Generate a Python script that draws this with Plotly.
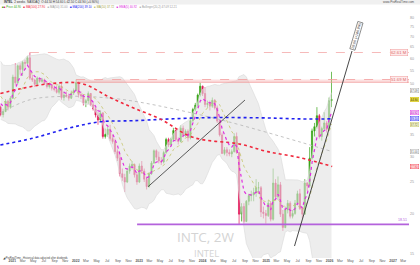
import numpy as np
import pandas as pd
import plotly.graph_objects as go

# ---------------- data ----------------
bar_start = "2020-10-26"          # first 2-week bar
n_bars = 137

opens = [42.5,40.3,41.2,44.3,42.5,45.3,52.6,50.5,57.0,55.5,
         58.4,58.0,60.3,52.2,51.5,50.0,52.2,51.0,51.6,50.3,
         49.2,49.8,48.6,48.2,47.2,49.3,45.5,46.3,46.0,45.3,
         47.0,47.8,50.6,46.5,46.0,43.8,44.5,46.8,43.2,42.0,
         40.2,38.8,40.8,34.5,35.0,36.3,34.0,33.3,31.0,29.6,
         26.5,25.8,25.0,27.0,28.0,28.3,26.3,25.0,28.0,27.0,
         25.5,24.2,26.5,28.6,31.2,29.8,29.0,28.8,30.8,33.8,
         32.5,33.8,36.0,33.8,33.3,36.6,34.8,35.8,34.2,38.6,
         41.8,43.1,46.3,49.3,46.8,43.3,43.6,42.8,44.6,42.3,
         38.5,34.9,30.6,31.4,30.8,30.5,31.0,34.5,30.8,19.9,
         21.0,18.9,21.8,22.7,22.8,23.2,24.0,24.0,20.2,20.0,
         19.7,21.5,19.2,24.8,22.5,24.5,19.9,18.1,20.5,21.5,
         19.6,20.0,21.5,23.0,20.7,19.9,24.8,24.3,29.6,35.9,
         37.0,40.0,34.5,36.5,38.0,36.3,44.5]
highs = [43.0,42.0,45.0,44.8,46.0,53.5,58.0,57.5,58.0,59.0,
         59.5,61.0,62.61,53.5,52.0,52.8,52.5,52.3,52.0,51.0,
         50.5,50.2,49.5,49.5,50.0,50.2,47.5,47.5,46.8,47.8,
         48.5,51.69,51.0,47.5,46.5,45.0,47.5,47.0,44.0,42.5,
         41.0,41.5,41.0,36.5,37.0,37.5,35.0,34.0,31.5,30.5,
         27.5,26.5,27.5,28.5,29.0,28.5,26.8,28.5,29.0,27.5,
         26.0,26.8,29.0,31.5,31.5,31.0,29.8,31.2,34.2,34.2,
         34.2,36.7,36.3,34.3,37.3,37.3,36.3,36.3,39.3,42.3,
         43.8,46.8,50.5,49.5,49.0,44.5,44.5,45.5,45.0,43.0,
         38.8,35.5,32.0,32.0,31.5,31.5,35.3,35.5,31.0,21.5,
         21.5,22.0,23.0,23.5,24.0,25.5,25.0,24.3,21.0,20.5,
         22.0,21.8,27.5,25.5,26.0,25.0,20.5,21.0,22.0,21.8,
         20.5,22.0,23.5,23.8,21.0,25.5,25.0,32.0,36.5,38.0,
         42.5,40.5,37.0,41.0,38.5,45.5,54.6]
lows = [39.8,39.5,41.0,41.5,42.0,45.0,49.5,50.0,53.5,53.0,
        55.5,57.5,51.5,50.8,49.0,49.8,50.5,50.5,49.8,48.5,
        48.5,47.8,47.5,46.8,46.5,44.8,44.5,45.5,44.5,45.0,
        46.3,47.5,45.5,45.0,43.0,42.5,43.5,42.8,41.5,39.5,
        37.5,38.5,34.0,34.0,34.5,33.5,32.8,30.5,29.0,26.0,
        25.2,23.3,24.8,26.5,27.3,25.8,24.5,24.8,26.5,25.0,
        23.7,24.0,26.3,28.4,29.2,28.5,28.2,28.5,30.5,32.0,
        32.2,33.3,33.3,32.6,33.1,34.3,34.3,33.3,33.8,38.3,
        41.3,42.3,45.8,46.0,42.5,42.3,41.5,42.3,41.8,38.0,
        34.5,30.5,30.2,30.0,30.0,29.8,30.8,30.5,18.51,18.9,
        18.6,18.8,21.2,21.8,21.8,22.5,23.0,19.5,19.3,18.6,
        19.5,18.9,19.0,22.0,22.0,19.5,17.67,18.0,20.0,19.3,
        19.3,19.8,21.2,20.5,19.3,19.8,23.5,24.0,29.3,34.5,
        36.5,34.0,33.5,36.0,35.5,36.0,42.5]
closes = [40.3,41.2,44.3,42.5,45.3,52.6,50.5,57.0,55.5,58.4,
          58.0,60.3,52.2,51.5,50.0,52.2,51.0,51.6,50.3,49.2,
          49.8,48.6,48.2,47.2,49.3,45.5,46.3,46.0,45.3,47.0,
          47.8,50.6,46.5,46.0,43.8,44.5,46.8,43.2,42.0,40.2,
          38.8,40.8,34.5,35.0,36.3,34.0,33.3,31.0,29.6,26.5,
          25.8,25.0,27.0,28.0,28.3,26.3,25.0,28.0,27.0,25.5,
          24.2,26.5,28.6,31.2,29.8,29.0,28.8,30.8,33.8,32.5,
          33.8,36.0,33.8,33.3,36.6,34.8,35.8,34.2,38.6,41.8,
          43.1,46.3,49.3,46.8,43.3,43.6,42.8,44.6,42.3,38.5,
          34.9,30.6,31.4,30.8,30.5,31.0,34.5,30.8,19.9,21.0,
          18.9,21.8,22.7,22.8,23.2,24.0,24.0,20.2,20.0,19.7,
          21.5,19.2,24.8,22.5,24.5,19.9,18.1,20.5,21.5,19.6,
          20.0,21.5,23.0,20.7,19.9,24.8,24.3,29.6,35.9,37.0,
          40.0,34.5,36.5,38.0,36.3,44.5,44.9]
# closes of the 19 bars before the first visible bar (indicator warm-up only)
pre_close = [59.2,49.4,47.2,46.3,49.8,51.6,53.4,53.4,56.0,52.5,
             53.0,53.4,42.5,43.6,45.4,45.0,45.4,48.1,42.3]

# long moving averages
blue_dates = ["2020-10-24","2021-04-30","2021-11-12","2022-05-21","2022-11-27",
              "2023-12-17","2024-11-27","2025-07-14","2026-01-16"]
blue_vals = [32.5,34.1,36.5,38.3,38.6,39.4,39.4,39.1,39.1]
red_dates = ["2020-10-24","2021-02-16","2021-08-07","2022-02-07","2022-07-17",
             "2022-11-27","2023-05-01","2023-11-07","2024-08-03","2025-01-10",
             "2025-07-14","2026-01-16"]
red_vals = [46.8,48.4,50.2,50.2,45.5,42.3,39.1,34.3,32.7,31.0,29.7,27.9]
grey_dates = ["2020-10-24","2021-04-14","2021-11-29","2022-07-17","2023-01-06",
              "2024-03-24","2025-07-14","2026-01-16"]
grey_vals = [40.8,44.8,45.9,45.3,44.0,39.1,33.2,31.0]

# horizontal levels and trend lines
level_hi, level_hi_start = 62.61, "2021-04-12"
level_mid, level_mid_low, level_mid_start = 51.69, 50.7, "2022-01-03"
level_low, level_low_start = 18.51, "2022-12-20"
trend1_dates, trend1_vals = ["2023-02-21","2024-09-01"], [24.17, 44.7]
trend2_dates, trend2_vals = ["2025-06-13","2026-05-10"], [15.87, 63.28]
trend2_label = "29.66 (+186.9%)"

x_tick_dates = ["2021-01-01","2021-03-01","2021-05-01","2021-07-01","2021-09-01","2021-11-01",
                "2022-01-01","2022-03-01","2022-05-01","2022-07-01","2022-09-01","2022-11-01",
                "2023-01-01","2023-03-01","2023-05-01","2023-07-01","2023-09-01","2023-11-01",
                "2024-01-01","2024-03-01","2024-05-01","2024-07-01","2024-09-01","2024-11-01",
                "2025-01-01","2025-03-01","2025-05-01","2025-07-01","2025-09-01","2025-11-01",
                "2026-01-01","2026-03-01","2026-05-01","2026-07-01","2026-09-01","2026-11-01",
                "2027-01-01","2027-03-01"]
x_tick_text = ["<b>2021</b>","Mar","May","Jul","Sep","Nov",
               "<b>2022</b>","Mar","May","Jul","Sep","Nov",
               "<b>2023</b>","Mar","May","Jul","Sep","Nov",
               "<b>2024</b>","Mar","May","Jul","Sep","Nov",
               "<b>2025</b>","Mar","May","Jul","Sep","Nov",
               "<b>2026</b>","Mar","May","Jul","Sep","Nov",
               "<b>2027</b>","Mar"]
# right-axis ticks; 40 and 45 sit under the value boxes, as in the reference
y_tick_vals = [15,20,25,30,35,40,45,50,55,60,65,70,75,80,85]
y_tick_text = ["15","20","25","30","35","","","50","55","60","65","70","75","80","85"]

x_range = ["2020-10-22", "2027-04-03"]
y_range = [14.58, 83.44]

# ---------------- indicators ----------------
dates = pd.date_range(bar_start, periods=n_bars, freq="14D")
allc = pd.Series(pre_close + closes, dtype=float)
k = len(pre_close)
mid = allc.rolling(20).mean()
sd = allc.rolling(20).std(ddof=0)
bb_up = (mid + 2 * sd).iloc[k:].to_numpy()
bb_lo = np.maximum((mid - 2 * sd).iloc[k:].to_numpy(), 1.0)
ema5 = allc.ewm(span=5, adjust=False).mean().iloc[k:].to_numpy()
sma10 = allc.rolling(10).mean().iloc[k:].to_numpy()

GREEN, RED = "#36a415", "#e3185a"
BLUE, MAROON, MAG, OLIVE, GREY = "#2020f0", "#f0283c", "#e02ee0", "#c4c46a", "#b4b4b4"
FONT = "Liberation Sans"

fig = go.Figure()
# Bollinger band
fig.add_trace(go.Scatter(x=dates, y=bb_up, mode="lines",
                         line=dict(color="#d9d9d9", width=0.6), hoverinfo="skip"))
fig.add_trace(go.Scatter(x=dates, y=bb_lo, mode="lines", fill="tonexty",
                         fillcolor="rgba(225,225,225,0.6)",
                         line=dict(color="#d9d9d9", width=0.6), hoverinfo="skip"))
# levels
x_end = x_range[1]
fig.add_trace(go.Scatter(x=[level_mid_start, x_end], y=[level_mid, level_mid], mode="lines",
                         line=dict(color="#f19a9a", width=0.8, dash="dash")))
fig.add_trace(go.Scatter(x=[level_mid_start, x_end], y=[level_mid_low, level_mid_low], mode="lines",
                         fill="tonexty", fillcolor="rgba(245,170,170,0.35)",
                         line=dict(color="#f19a9a", width=0.8)))
fig.add_trace(go.Scatter(x=[level_hi_start, x_end], y=[level_hi, level_hi], mode="lines",
                         line=dict(color="#f4a8a8", width=0.8, dash="dash")))
fig.add_trace(go.Scatter(x=[level_low_start, x_end], y=[level_low, level_low], mode="lines",
                         line=dict(color="#b462dc", width=1.6)))
# candles
fig.add_trace(go.Candlestick(
    x=dates, open=opens, high=highs, low=lows, close=closes,
    increasing=dict(line=dict(color=GREEN, width=0.7), fillcolor=GREEN),
    decreasing=dict(line=dict(color=RED, width=0.7), fillcolor=RED),
    whiskerwidth=0))
# moving averages
fig.add_trace(go.Scatter(x=grey_dates, y=grey_vals, mode="lines", line_shape="spline",
                         line=dict(color=GREY, width=0.8, dash="dot")))
fig.add_trace(go.Scatter(x=dates, y=sma10, mode="lines",
                         line=dict(color=OLIVE, width=0.8, dash="dot")))
fig.add_trace(go.Scatter(x=blue_dates, y=blue_vals, mode="lines", line_shape="spline",
                         line=dict(color=BLUE, width=1.6, dash="dot")))
fig.add_trace(go.Scatter(x=red_dates, y=red_vals, mode="lines", line_shape="spline",
                         line=dict(color=MAROON, width=1.6, dash="dot")))
fig.add_trace(go.Scatter(x=dates, y=ema5, mode="lines",
                         line=dict(color=MAG, width=1.2, dash="dot")))
# trend lines
fig.add_trace(go.Scatter(x=trend1_dates, y=trend1_vals, mode="lines",
                         line=dict(color="#333333", width=0.8)))
fig.add_trace(go.Scatter(x=trend2_dates, y=trend2_vals, mode="lines",
                         line=dict(color="#333333", width=0.9)))

ann = []
def lg(v):
    return float(np.log10(v))

# trend label rotated along the steep line
ann.append(dict(x="2026-06-04", y=lg(70.4), xref="x", yref="y", text=trend2_label,
                showarrow=False, textangle=-73.6, font=dict(size=3.6, color="#333", family=FONT),
                bgcolor="white", bordercolor="#555", borderwidth=0.6, borderpad=0.6))
# level labels
for val, txt in [(level_hi, f"{level_hi:.2f} M"), (level_mid, f"{level_mid:.2f} M")]:
    ann.append(dict(x=0.997, y=lg(val), xref="paper", yref="y", text=txt, showarrow=False,
                    xanchor="right", yanchor="middle",
                    font=dict(size=4.2, color="#e06a6a", family=FONT),
                    bgcolor="#fdeaea", bordercolor="#f19a9a", borderwidth=0.5, borderpad=0.5))
ann.append(dict(x=1.0, y=lg(level_low), xref="paper", yref="y", text=f"{level_low:.2f}",
                showarrow=False, xanchor="right", yanchor="bottom",
                font=dict(size=3.6, color="#b462dc", family=FONT)))
# right axis value boxes (value, bg, border, text colour, vertical nudge)
boxes = [(bb_up[-1], "white", "#999", "#555", 2.0),
         (closes[-1], "#f2e233", "#c9bb20", "#222", -0.5),
         (ema5[-1], "#f7d6f7", MAG, "#b0b", 0),
         (blue_vals[-1], "#dcdcff", BLUE, BLUE, 0),
         (sma10[-1], "#f1f1c8", OLIVE, "#777733", -0.5),
         (grey_vals[-1], "white", "#999", "#666", 0),
         (red_vals[-1], "#ffe0e0", MAROON, MAROON, 0)]
for v, bg, bc, fc, ys in boxes:
    ann.append(dict(x=1.0, y=lg(v), xref="paper", yref="y", text=f"{v:.2f}", showarrow=False,
                    xanchor="left", yanchor="middle", xshift=1, yshift=ys,
                    font=dict(size=2.8, color=fc, family=FONT),
                    bgcolor=bg, bordercolor=bc, borderwidth=0.4, borderpad=0.2))
# watermark
ann.append(dict(x=0.5037, y=0.085, xref="paper", yref="paper", text="INTC, 2W", showarrow=False,
                xanchor="center", yanchor="middle",
                font=dict(size=13.5, color="#d4d4d4", family="Open Sans")))
ann.append(dict(x=0.5037, y=0.018, xref="paper", yref="paper", text="INTEL", showarrow=False,
                xanchor="center", yanchor="middle",
                font=dict(size=9.5, color="#d4d4d4", family="Open Sans")))
# header
ann.append(dict(x=0.004, y=1.039, xref="paper", yref="paper", xanchor="left", yanchor="middle",
                text=f"<b>INTEL</b>  2 weeks  NASDAQ  O:{opens[-1]:.2f} H:{highs[-1]:.2f} "
                     f"L:{lows[-1]:.2f} C:{closes[-1]:.2f} (+0.90%)",
                showarrow=False, font=dict(size=3.0, color="#333", family=FONT)))
ann.append(dict(x=1.02, y=1.039, xref="paper", yref="paper", xanchor="right", yanchor="middle",
                text="www.ProRealTime.com", showarrow=False,
                font=dict(size=3.0, color="#555", family=FONT)))
legend_items = [("<span style='color:#36a415'>■</span><span style='color:#e3185a'>■</span>",
                 f"Price {closes[-1]:.2f}", "#36a415"),
                (f"<span style='color:{MAROON}'>■</span>", f"MA(100) {red_vals[-1]:.2f}", MAROON),
                (f"<span style='color:{GREY}'>■</span>", f"MA(50) {grey_vals[-1]:.2f}", "#999"),
                (f"<span style='color:{BLUE}'>■</span>", f"MA(200) {blue_vals[-1]:.2f}", BLUE),
                (f"<span style='color:{OLIVE}'>■</span>", f"MA(10) {sma10[-1]:.2f}", "#a0a040"),
                (f"<span style='color:{MAG}'>■</span>", f"EMA(5) {ema5[-1]:.2f}", MAG),
                (f"<span style='color:{GREY}'>■</span>",
                 f"Bollinger(20,2) {bb_up[-1]:.2f} {bb_lo[-1]:.2f}", "#999")]
legend_text = "   ".join(f"{sq}<span style='color:{col}'> {txt}</span>"
                           for sq, txt, col in legend_items)
ann.append(dict(x=0.0, y=1.019, xref="paper", yref="paper", xanchor="left", yanchor="middle",
                text=legend_text, showarrow=False, font=dict(size=2.9, family=FONT)))
ann.append(dict(x=0.002, y=0.0, xref="paper", yref="paper", xanchor="left", yanchor="middle",
                text="◢ ProRealTime - Historical data adjusted after dividends", showarrow=False,
                font=dict(size=2.6, color="#444", family=FONT)))

fig.update_layout(
    width=420, height=265, margin=dict(l=0, r=11, t=12, b=7),
    paper_bgcolor="white", plot_bgcolor="white", showlegend=False,
    annotations=ann,
    shapes=[dict(type="rect", xref="paper", yref="paper", x0=0, x1=1.03, y0=1.03, y1=1.05,
                 fillcolor="#f0f0f0", line=dict(width=0), layer="below")],
    xaxis=dict(type="date", range=x_range, rangeslider=dict(visible=False),
               showgrid=False, zeroline=False, showline=False, ticks="",
               tickvals=x_tick_dates, ticktext=x_tick_text, tickangle=0,
               tickfont=dict(size=3.4, color="#555", family=FONT)),
    yaxis=dict(type="log", side="right", range=[np.log10(y_range[0]), np.log10(y_range[1])],
               showgrid=False, zeroline=False, showline=False, ticks="",
               tickvals=y_tick_vals, ticktext=y_tick_text,
               tickfont=dict(size=3.6, color="#999", family=FONT)),
)
fig.write_html("out.html")
